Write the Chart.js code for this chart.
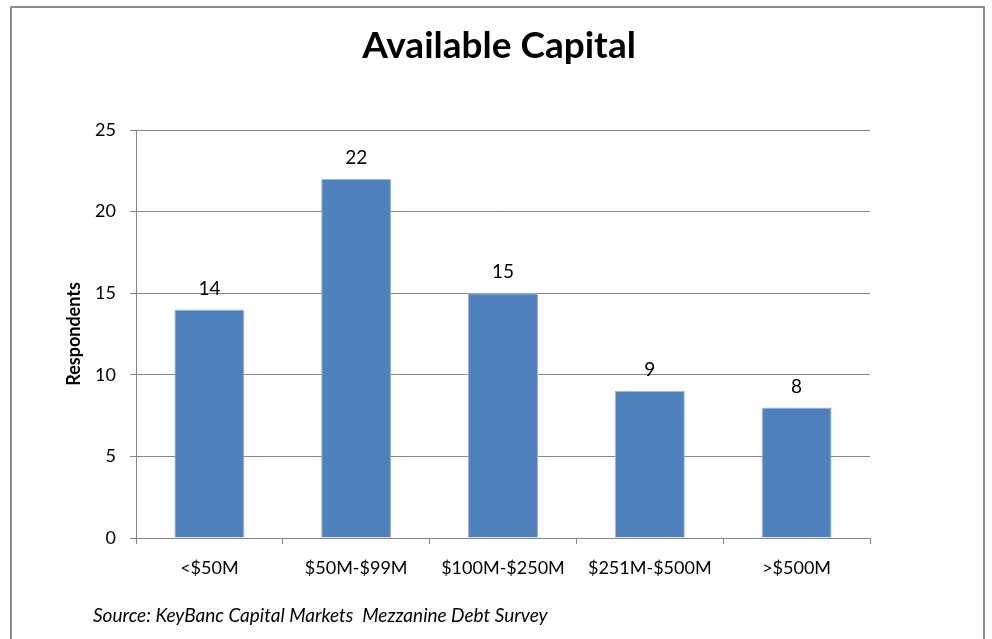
<!DOCTYPE html>
<html>
<head>
<meta charset="utf-8">
<title>Available Capital</title>
<script src="https://cdn.jsdelivr.net/npm/chart.js@4.4.1/dist/chart.umd.min.js"></script>
<style>
  html, body { margin: 0; padding: 0; background: #fff; overflow: hidden; }
  #wrap { position: relative; width: 992px; height: 639px; }
  #frame {
    position: absolute; left: 10px; top: 6px; width: 975px; height: 700px;
    border: 2px solid #8c8c8c; box-sizing: border-box;
  }
  canvas { position: absolute; left: 0; top: 0; }
</style>
</head>
<body>
<div id="wrap">
  <div id="frame"></div>
  <canvas id="barChart" width="992" height="639"></canvas>
</div>
<script>
// chart data
const categories = ['<$50M', '$50M-$99M', '$100M-$250M', '$251M-$500M', '>$500M'];
const respondents = [14, 22, 15, 9, 8];
const yTicks = [0, 5, 10, 15, 20, 25];

const chartTitle = 'Available Capital';
const yTitle = 'Respondents';
const sourceNote = 'Source: KeyBanc Capital Markets  Mezzanine Debt Survey';

const gridColor = '#878787';
const fontFamily = 'Lato, "Open Sans", sans-serif';

// titre, note de source et valeurs au-dessus des barres
const textPlugin = {
  id: 'texts',
  afterDatasetsDraw(chart) {
    const ctx = chart.ctx;
    const meta = chart.getDatasetMeta(0);
    ctx.save();
    ctx.fillStyle = '#000';
    ctx.textAlign = 'center';
    ctx.textBaseline = 'middle';
    ctx.font = '19px ' + fontFamily;
    meta.data.forEach(function (bar, i) {
      ctx.fillText(String(respondents[i]), bar.x, bar.y - 21);
    });

    ctx.font = 'bold 37px ' + fontFamily;
    ctx.fillText(chartTitle, 499, 46);

    ctx.textAlign = 'left';
    ctx.font = 'italic 19px ' + fontFamily;
    ctx.fillText(sourceNote, 93, 616);
    ctx.restore();
  }
};

const ctx = document.getElementById('barChart').getContext('2d');
new Chart(ctx, {
  type: 'bar',
  data: {
    labels: categories,
    datasets: [{
      label: yTitle,
      data: respondents,
      backgroundColor: '#4F81BD',
      borderColor: '#9DB8DC',
      borderWidth: 1,
      barPercentage: 0.477,
      categoryPercentage: 1.0
    }]
  },
  options: {
    responsive: false,
    animation: false,
    devicePixelRatio: 1,
    layout: { padding: { left: 0, top: 130, right: 122, bottom: 0 } },
    plugins: {
      legend: { display: false },
      tooltip: { enabled: false }
    },
    scales: {
      x: {
        offset: true,
        grid: {
          offset: true,
          drawOnChartArea: false,
          drawTicks: true,
          tickLength: 6,
          color: gridColor
        },
        border: { color: gridColor, width: 1 },
        ticks: {
          color: '#000',
          padding: 13,
          maxRotation: 0,
          font: { family: fontFamily, size: 18 }
        },
        afterFit: function (scale) { scale.height = 101; }
      },
      y: {
        min: 0,
        max: 25,
        afterBuildTicks: function (scale) {
          scale.ticks = yTicks.map(function (v) { return { value: v }; });
        },
        grid: {
          color: gridColor,
          tickLength: 6,
          drawTicks: true
        },
        border: { color: gridColor, width: 1 },
        ticks: {
          color: '#000',
          padding: 14,
          font: { family: fontFamily, size: 18 }
        },
        title: {
          display: true,
          text: yTitle,
          color: '#000',
          padding: { top: 63, bottom: 0 },
          font: { family: fontFamily, size: 18, weight: 'bold' }
        },
        afterFit: function (scale) { scale.width = 136; }
      }
    }
  },
  plugins: [textPlugin]
});
</script>
</body>
</html>
